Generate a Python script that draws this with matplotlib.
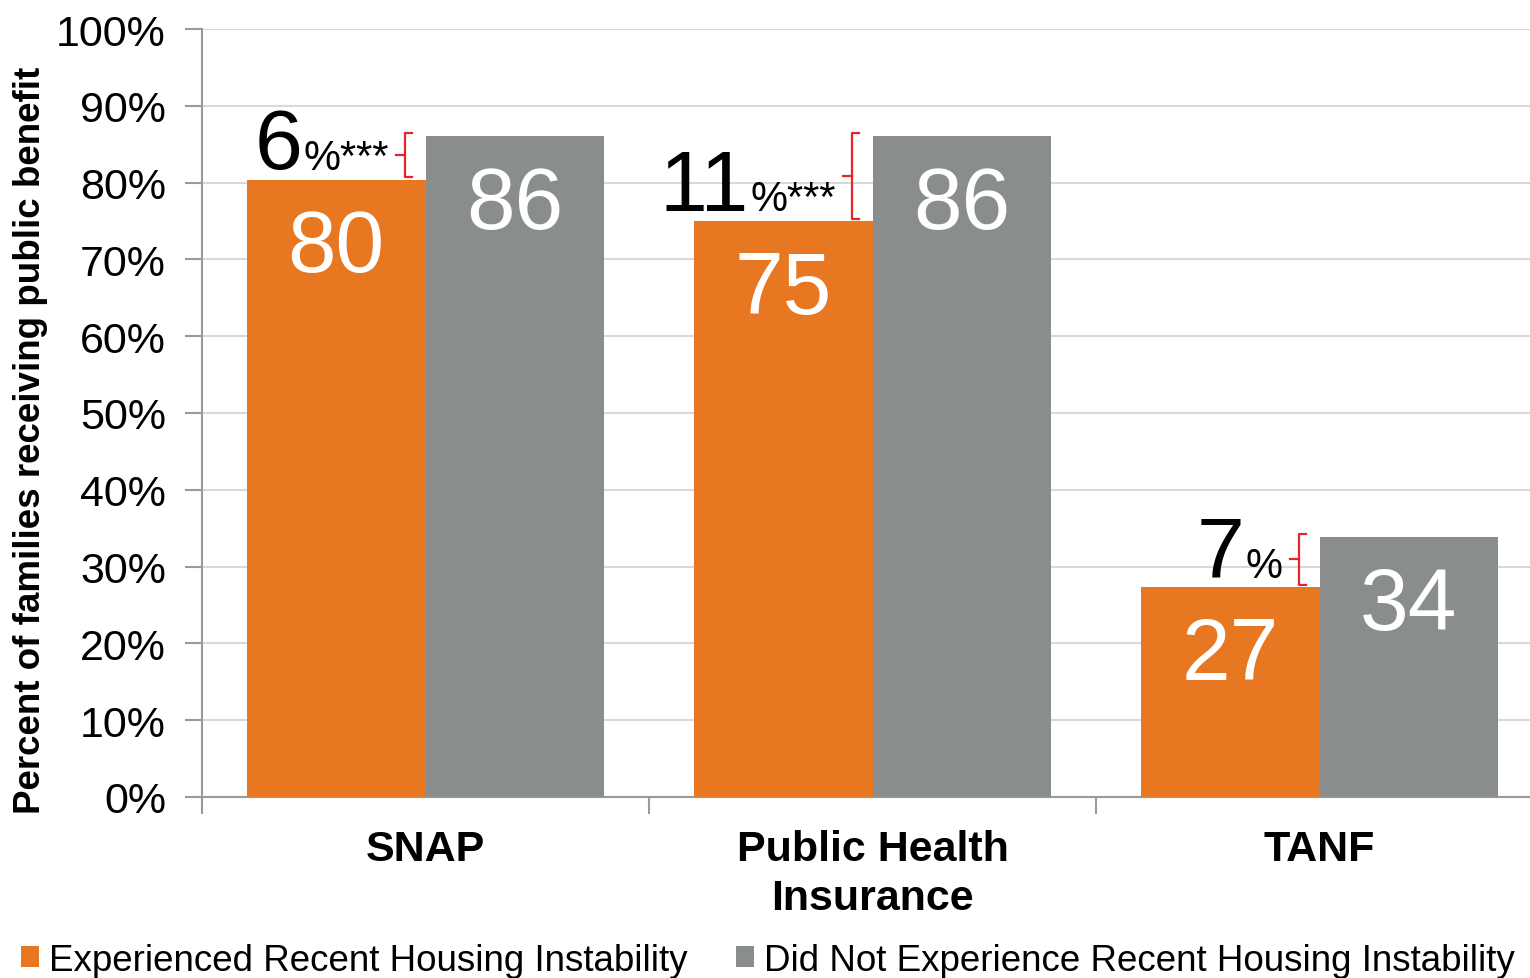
"""Beneficios publicos segun inestabilidad de vivienda."""

import matplotlib.pyplot as plt
import numpy as np

plt.rcParams["font.family"] = ["Liberation Sans", "DejaVu Sans"]

categories = ["SNAP", "Public Health\nInsurance", "TANF"]
experienced = [80.4, 75.0, 27.3]
not_experienced = [86.1, 86.1, 33.9]
diff_labels = ["6", "11", "7"]
diff_marks = ["%***", "%***", "%"]
series_names = [
    "Experienced Recent Housing Instability",
    "Did Not Experience Recent Housing Instability",
]
y_ticks = np.arange(0, 101, 10)

ORANGE = "#E87722"
GRAY = "#8A8D8E"
AXIS = "#9A9A9A"

fig = plt.figure(figsize=(15.3, 9.79), dpi=100)
ax = fig.add_axes([202 / 1530, 1 - 798 / 979, 1 - 202 / 1530, (798 - 30) / 979])

x = np.arange(len(categories))
w = 0.4
b1 = ax.bar(x - w / 2, experienced, w, color=ORANGE, label=series_names[0], zorder=3)
b2 = ax.bar(x + w / 2, not_experienced, w, color=GRAY, label=series_names[1], zorder=3)

for bars, vals in ((b1, experienced), (b2, not_experienced)):
    for r, v in zip(bars, vals):
        ax.annotate(f"{round(v)}", xy=(r.get_x() + r.get_width() / 2, v), xytext=(0, -50),
                    textcoords="offset points", ha="center", va="center",
                    fontsize=63, color="white", zorder=4)

# llaves rojas con la diferencia
for i, (a, b) in enumerate(zip(experienced, not_experienced)):
    xb = x[i] - 0.046
    lo, hi = a + 0.3, b + 0.4
    mid = (lo + hi) / 2
    ax.plot([xb + 0.016, xb, xb, xb + 0.016], [hi, hi, lo, lo], color="#E3262B", lw=1.6, zorder=4)
    ax.plot([xb - 0.02, xb], [mid, mid], color="#E3262B", lw=1.6, zorder=4)
    small = ax.annotate(diff_marks[i], xy=(xb - 0.036, a + 1.4), ha="right", va="baseline",
                        fontsize=30, color="black", zorder=5)
    ax.annotate(diff_labels[i], xy=(0, 0), xycoords=small, xytext=(-1, 7),
                textcoords="offset points", ha="right", va="baseline",
                fontsize=62, color="black", zorder=5)

ax.set_xlim(-0.5, 2.5 - 13 / 447)
ax.set_ylim(0, 100)
ax.set_yticks(y_ticks)
ax.set_yticklabels([f"{t}%" for t in y_ticks], fontsize=31)
ax.set_xticks(x)
ax.set_xticklabels(categories, fontsize=31, fontweight="bold", linespacing=1.3)
ax.set_xticks([-0.5, 0.5, 1.5], minor=True)
ax.tick_params(axis="x", which="major", length=0, pad=23)
ax.tick_params(axis="x", which="minor", length=12, color=AXIS, width=1.5, direction="out")
ax.tick_params(axis="y", length=12, color=AXIS, width=1.5, pad=14)
ax.grid(axis="y", color="#D9D9D9", lw=1.5, zorder=0)
for s in ("top", "right"):
    ax.spines[s].set_visible(False)
for s in ("left", "bottom"):
    ax.spines[s].set_color(AXIS)
    ax.spines[s].set_linewidth(1.5)

ax.set_ylabel("Percent of families receiving public benefit", fontsize=26.5, fontweight="bold")
ax.yaxis.set_label_coords(-154 / 1328, (798 - 440) / 768)

fig.legend(loc="lower left", bbox_to_anchor=(0.004, -0.015), ncol=2, frameon=False,
           fontsize=26.5, handlelength=0.5, handleheight=0.5, handletextpad=0.27,
           columnspacing=1.3, borderaxespad=0)

fig.savefig("out.png", dpi=100)
